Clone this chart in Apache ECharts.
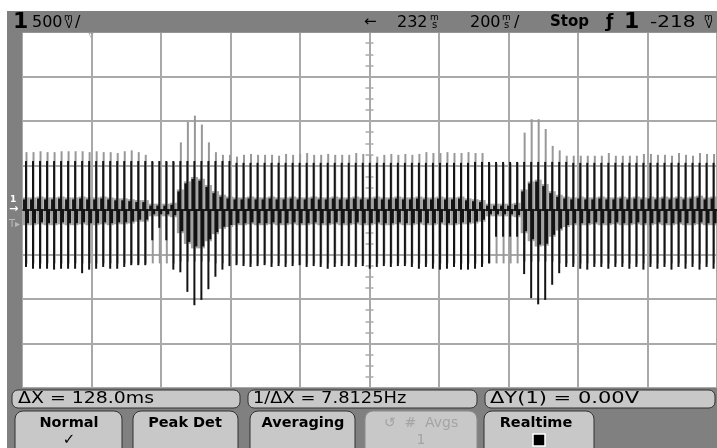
<!DOCTYPE html>
<html>
<head>
<meta charset="utf-8">
<script src="https://cdn.jsdelivr.net/npm/echarts@6/dist/echarts.min.js"></script>
<style>
  html, body { margin: 0; padding: 0; background: #ffffff; }
  #scope { width: 717px; height: 448px; }
</style>
</head>
<body>
<div id="scope"></div>
<script>
// Pulse train captured on channel 1: 200 ms/div, 500 mV/div.
// Spike times in ms relative to the screen centre.
const spikeTimes = [
  -988.5, -968.3, -948.1, -927.9, -907.7, -887.6, -867.4, -847.2, -827.0, -806.8,
  -786.6, -766.4, -746.2, -726.0, -705.8, -685.7, -665.5, -645.3, -625.1, -604.9,
  -584.7, -564.5, -544.3, -524.1, -503.9, -483.8, -463.6, -443.4, -423.2, -403.0,
  -382.8, -362.6, -342.4, -322.2, -302.0, -281.9, -261.7, -241.5, -221.3, -201.1,
  -180.9, -160.7, -140.5, -120.3, -100.1, -80.0, -59.8, -39.6, -19.4, 0.8,
  21.0, 41.2, 61.4, 81.6, 101.8, 121.9, 142.1, 162.3, 182.5, 202.7,
  222.9, 243.1, 263.3, 283.5, 303.7, 323.8, 344.0, 364.2, 384.4, 404.6,
  424.8, 445.0, 465.2, 485.4, 505.6, 525.7, 545.9, 566.1, 586.3, 606.5,
  626.7, 646.9, 667.1, 687.3, 707.5, 727.6, 747.8, 768.0, 788.2, 808.4,
  828.6, 848.8, 869.0, 889.2, 909.4, 929.5, 949.7, 969.9, 990.1
];

// Previous acquisition (grey trace), volts
const grayTop = [
  0.65, 0.65, 0.66, 0.65, 0.65, 0.66, 0.66, 0.66, 0.66, 0.65,
  0.66, 0.65, 0.65, 0.64, 0.66, 0.67, 0.65, 0.62, 0.54, 0.54,
  0.54, 0.54, 0.76, 0.99, 1.06, 0.96, 0.76, 0.65, 0.62, 0.62,
  0.60, 0.62, 0.63, 0.62, 0.62, 0.62, 0.61, 0.63, 0.62, 0.63,
  0.64, 0.62, 0.62, 0.63, 0.62, 0.62, 0.62, 0.64, 0.63, 0.62,
  0.60, 0.62, 0.63, 0.62, 0.63, 0.62, 0.63, 0.65, 0.64, 0.64,
  0.65, 0.64, 0.64, 0.65, 0.64, 0.64, 0.52, 0.52, 0.52, 0.52,
  0.53, 0.87, 1.02, 1.02, 0.91, 0.72, 0.67, 0.61, 0.61, 0.61,
  0.61, 0.61, 0.61, 0.64, 0.61, 0.61, 0.61, 0.61, 0.63, 0.63,
  0.62, 0.62, 0.61, 0.64, 0.62, 0.61, 0.64, 0.63, 0.63
];
const grayBottom = [
  -0.60, -0.60, -0.60, -0.60, -0.60, -0.60, -0.60, -0.60, -0.60, -0.60,
  -0.60, -0.60, -0.60, -0.60, -0.60, -0.60, -0.60, -0.60, -0.60, -0.60,
  -0.60, -0.60, -0.58, -0.58, -0.58, -0.58, -0.58, -0.60, -0.60, -0.60,
  -0.60, -0.60, -0.60, -0.60, -0.60, -0.60, -0.60, -0.60, -0.60, -0.60,
  -0.60, -0.60, -0.60, -0.60, -0.60, -0.60, -0.60, -0.60, -0.60, -0.60,
  -0.60, -0.60, -0.60, -0.60, -0.60, -0.60, -0.60, -0.60, -0.60, -0.60,
  -0.60, -0.60, -0.60, -0.60, -0.60, -0.60, -0.60, -0.60, -0.60, -0.60,
  -0.60, -0.58, -0.58, -0.58, -0.58, -0.58, -0.60, -0.60, -0.60, -0.60,
  -0.60, -0.60, -0.60, -0.60, -0.60, -0.60, -0.60, -0.60, -0.60, -0.60,
  -0.60, -0.60, -0.60, -0.60, -0.60, -0.60, -0.60, -0.60, -0.60
];

// Current acquisition (black trace), volts
const blackTop = [
  0.55, 0.55, 0.55, 0.55, 0.55, 0.55, 0.55, 0.55, 0.55, 0.55,
  0.55, 0.55, 0.55, 0.55, 0.55, 0.55, 0.55, 0.55, 0.55, 0.55,
  0.55, 0.55, 0.55, 0.55, 0.55, 0.55, 0.55, 0.55, 0.55, 0.55,
  0.53, 0.53, 0.53, 0.53, 0.53, 0.53, 0.53, 0.53, 0.53, 0.53,
  0.53, 0.53, 0.53, 0.53, 0.53, 0.53, 0.53, 0.53, 0.53, 0.53,
  0.53, 0.53, 0.53, 0.53, 0.53, 0.53, 0.53, 0.53, 0.53, 0.53,
  0.53, 0.53, 0.53, 0.53, 0.54, 0.54, 0.54, 0.54, 0.54, 0.54,
  0.54, 0.54, 0.54, 0.54, 0.54, 0.54, 0.54, 0.54, 0.53, 0.53,
  0.53, 0.53, 0.53, 0.53, 0.53, 0.53, 0.53, 0.53, 0.53, 0.53,
  0.53, 0.53, 0.53, 0.53, 0.53, 0.53, 0.53, 0.53, 0.53
];
const blackBottom = [
  -0.64, -0.66, -0.66, -0.66, -0.67, -0.66, -0.66, -0.66, -0.71, -0.67,
  -0.66, -0.64, -0.66, -0.66, -0.64, -0.62, -0.62, -0.62, -0.34, -0.20,
  -0.34, -0.67, -0.70, -0.92, -1.07, -1.01, -0.89, -0.75, -0.67, -0.63,
  -0.62, -0.63, -0.64, -0.63, -0.62, -0.64, -0.63, -0.64, -0.63, -0.62,
  -0.64, -0.63, -0.64, -0.66, -0.64, -0.63, -0.63, -0.64, -0.63, -0.66,
  -0.64, -0.63, -0.64, -0.63, -0.63, -0.64, -0.66, -0.64, -0.66, -0.67,
  -0.66, -0.64, -0.67, -0.67, -0.66, -0.64, -0.60, -0.30, -0.30, -0.30,
  -0.30, -0.72, -0.99, -1.06, -1.01, -0.84, -0.71, -0.64, -0.64, -0.66,
  -0.67, -0.64, -0.64, -0.66, -0.64, -0.64, -0.66, -0.64, -0.67, -0.64,
  -0.66, -0.64, -0.67, -0.64, -0.66, -0.64, -0.67, -0.64, -0.66
];

// Ringing envelope around the baseline after each spike, volts
const bandTop = [
  0.13, 0.13, 0.14, 0.13, 0.13, 0.14, 0.13, 0.13, 0.14, 0.13,
  0.13, 0.14, 0.13, 0.12, 0.12, 0.11, 0.10, 0.10, 0.06, 0.06,
  0.06, 0.07, 0.22, 0.31, 0.36, 0.34, 0.27, 0.20, 0.16, 0.14,
  0.13, 0.13, 0.14, 0.13, 0.13, 0.14, 0.13, 0.13, 0.14, 0.13,
  0.13, 0.14, 0.13, 0.13, 0.14, 0.13, 0.13, 0.14, 0.13, 0.13,
  0.14, 0.13, 0.13, 0.14, 0.13, 0.13, 0.14, 0.13, 0.13, 0.14,
  0.13, 0.13, 0.14, 0.12, 0.11, 0.10, 0.06, 0.06, 0.06, 0.06,
  0.07, 0.22, 0.31, 0.33, 0.28, 0.20, 0.16, 0.14, 0.13, 0.14,
  0.13, 0.13, 0.14, 0.13, 0.13, 0.14, 0.13, 0.14, 0.13, 0.14,
  0.13, 0.14, 0.13, 0.14, 0.13, 0.14, 0.15, 0.13, 0.14
];
const bandBottom = [
  -0.16, -0.16, -0.15, -0.16, -0.16, -0.15, -0.16, -0.16, -0.15, -0.16,
  -0.16, -0.15, -0.16, -0.15, -0.15, -0.14, -0.12, -0.12, -0.06, -0.06,
  -0.06, -0.07, -0.25, -0.37, -0.42, -0.42, -0.34, -0.26, -0.20, -0.18,
  -0.16, -0.16, -0.15, -0.16, -0.16, -0.15, -0.16, -0.16, -0.15, -0.16,
  -0.16, -0.15, -0.16, -0.16, -0.15, -0.16, -0.16, -0.15, -0.16, -0.16,
  -0.15, -0.16, -0.16, -0.15, -0.16, -0.16, -0.15, -0.16, -0.16, -0.15,
  -0.16, -0.16, -0.15, -0.15, -0.14, -0.12, -0.06, -0.06, -0.06, -0.06,
  -0.07, -0.25, -0.34, -0.40, -0.39, -0.29, -0.22, -0.18, -0.16, -0.16,
  -0.16, -0.15, -0.16, -0.16, -0.15, -0.16, -0.16, -0.15, -0.16, -0.16,
  -0.15, -0.16, -0.16, -0.15, -0.16, -0.16, -0.15, -0.16, -0.16
];

// Status line and measurement read-outs
const channelScale = '500';
const timeDelay = '232';
const timeScale = '200';
const triggerLevel = '-218';
const measurements = ['ΔX = 128.0ms', '1/ΔX = 7.8125Hz', 'ΔY(1) = 0.00V'];
const softkeys = ['Normal', 'Peak Det', 'Averaging', '↺  #  Avgs', 'Realtime'];

const FONT = '"DejaVu Sans", "Liberation Sans", sans-serif';
const GRID_COLOR = '#a9a9a9';
const PANEL = '#808080';
const KEY_FILL = '#c8c8c8';
const INK = '#141414';

const grayData = spikeTimes.map((t, i) => [t, grayTop[i], grayBottom[i], bandTop[i], bandBottom[i]]);
const blackData = spikeTimes.map((t, i) => [t, blackTop[i], blackBottom[i], bandTop[i], bandBottom[i]]);

function txt(x, y, text, size, opts) {
  opts = opts || {};
  return {
    type: 'text', x: x, y: y, z: 110,
    scaleX: opts.scaleX || 1,
    style: {
      text: text,
      font: (opts.bold ? 'bold ' : '') + size + 'px ' + FONT,
      fill: opts.fill || '#000000',
      align: opts.align || 'left', textAlign: opts.align || 'left',
      verticalAlign: 'middle', textVerticalAlign: 'middle'
    }
  };
}
function box(x, y, w, h, r, fill, stroke) {
  return {
    type: 'rect', z: 105,
    shape: { x: x, y: y, width: w, height: h, r: r },
    style: { fill: fill, stroke: stroke || null, lineWidth: stroke ? 1 : 0 }
  };
}

const graphics = [
  // instrument frame
  box(7, 11, 710, 21.5, 0, PANEL),
  box(7, 32, 15, 356, 0, PANEL),
  box(7, 388, 710, 60, 0, PANEL),

  // status line
  txt(13, 22.5, '1', 22, { bold: true }),
  txt(32, 22.5, channelScale, 16),
  txt(64, 17.5, 'm', 9), txt(65.5, 25.5, 'V', 10),
  txt(75, 22.5, '/', 16),
  txt(364, 22.5, '←', 15),
  txt(397, 22.5, timeDelay, 16),
  txt(430, 17.5, 'm', 9), txt(432, 25.5, 's', 10),
  txt(470, 22.5, timeScale, 16),
  txt(502, 17.5, 'm', 9), txt(504, 25.5, 's', 10),
  txt(514, 22.5, '/', 16),
  txt(550, 22.5, 'Stop', 15, { bold: true }),
  txt(606, 22.5, 'ƒ', 17, { bold: true }),
  txt(624, 22.5, '1', 22, { bold: true }),
  txt(650, 22.5, triggerLevel, 16, { scaleX: 1.25 }),
  txt(704, 17.5, 'm', 9), txt(705.5, 25.5, 'V', 10),

  // channel / trigger markers
  txt(10, 200, '1', 9, { bold: true, fill: '#ffffff' }),
  txt(9, 209.5, '→', 11, { bold: true, fill: '#ffffff' }),
  txt(9, 224, 'T▸', 10, { fill: '#b8b8b8' }),
  txt(91, 35, '▿', 10, { align: 'center', fill: '#9a9a9a' }),

  // measurement read-outs
  box(12, 390, 228, 18, 6, KEY_FILL, '#303030'),
  box(248, 390, 229, 18, 6, KEY_FILL, '#303030'),
  box(485, 390, 230, 18, 6, KEY_FILL, '#303030'),
  txt(18, 399, measurements[0], 15, { scaleX: 1.26 }),
  txt(253, 399, measurements[1], 15, { scaleX: 1.19 }),
  txt(490, 399, measurements[2], 15, { scaleX: 1.4 }),

  // softkeys
  box(15, 411, 107, 45, 8, KEY_FILL, '#303030'),
  box(133, 411, 105, 45, 8, KEY_FILL, '#303030'),
  box(250, 411, 105, 45, 8, KEY_FILL, '#303030'),
  box(365, 411, 112, 45, 8, KEY_FILL, '#8a8a8a'),
  box(484, 411, 110, 45, 8, KEY_FILL, '#303030'),
  txt(69, 423, softkeys[0], 14.5, { bold: true, align: 'center' }),
  txt(69, 440, '✓', 15, { bold: true, align: 'center' }),
  txt(185, 423, softkeys[1], 14.5, { bold: true, align: 'center', scaleX: 1 }),
  txt(303, 423, softkeys[2], 14.5, { bold: true, align: 'center' }),
  txt(421, 423, softkeys[3], 14, { align: 'center', fill: '#a4a4a4' }),
  txt(421, 440, '1', 14, { align: 'center', fill: '#a4a4a4' }),
  txt(536, 423, softkeys[4], 14.5, { bold: true, align: 'center' }),
  {
    type: 'rect', z: 110,
    shape: { x: 533, y: 434, width: 12, height: 12 },
    style: { fill: '#000000', stroke: '#ffffff', lineWidth: 1.5 }
  }
];

function centreAxis(dim, position, extra) {
  return Object.assign({
    type: 'value',
    position: position,
    axisLabel: { show: false },
    axisLine: { show: true, onZero: true, lineStyle: { color: GRID_COLOR, width: 2 } },
    axisTick: { show: true, length: 4, lineStyle: { color: GRID_COLOR, width: 1.5 } },
    minorTick: { show: true, splitNumber: dim === 'x' ? 5 : 4, length: 4, lineStyle: { color: GRID_COLOR, width: 1.5 } },
    splitLine: { show: false },
    z: 1
  }, extra);
}

const option = {
  backgroundColor: '#ffffff',
  animation: false,
  grid: { left: 22, top: 32, width: 695, height: 356, containLabel: false },
  xAxis: [
    centreAxis('x', 'bottom', { min: -1000, max: 1000, interval: 200,
      splitLine: { show: true, lineStyle: { color: GRID_COLOR, width: 2 } } }),
    centreAxis('x', 'top', { min: -1000, max: 1000, interval: 200 })
  ],
  yAxis: [
    centreAxis('y', 'left', { min: -2, max: 2, interval: 0.5,
      splitLine: { show: true, lineStyle: { color: GRID_COLOR, width: 2 } } }),
    centreAxis('y', 'right', { min: -2, max: 2, interval: 0.5 })
  ],
  graphic: { elements: graphics },
  series: [
    {
      name: 'previous',
      type: 'custom',
      xAxisIndex: 0, yAxisIndex: 0,
      silent: true, clip: true,
      encode: { x: 0, y: [1, 2] },
      data: grayData,
      renderItem: function (params, api) {
        const t = api.value(0);
        const top = api.coord([t, api.value(1)]);
        const bot = api.coord([t, api.value(2)]);
        const bt = api.coord([t, api.value(3)]);
        const bb = api.coord([t, api.value(4)]);
        return {
          type: 'group',
          children: [
            { type: 'rect', shape: { x: top[0] - 3.5, y: bt[1] - 1, width: 7, height: bb[1] - bt[1] + 2 },
              style: { fill: '#a2a2a2' } },
            { type: 'line', shape: { x1: top[0] + 0.5, y1: top[1], x2: bot[0] + 0.5, y2: bot[1] },
              style: { stroke: '#989898', lineWidth: 2 } }
          ]
        };
      }
    },
    {
      name: 'current',
      type: 'custom',
      xAxisIndex: 0, yAxisIndex: 0,
      silent: true, clip: true,
      encode: { x: 0, y: [1, 2] },
      data: blackData,
      renderItem: function (params, api) {
        const t = api.value(0);
        const top = api.coord([t, api.value(1)]);
        const bot = api.coord([t, api.value(2)]);
        const bt = api.coord([t, api.value(3)]);
        const bb = api.coord([t, api.value(4)]);
        const base = api.coord([t, 0]);
        const x = top[0];
        return {
          type: 'group',
          children: [
            { type: 'line', shape: { x1: x - 3.5, y1: base[1], x2: x + 3.5, y2: base[1] },
              style: { stroke: INK, lineWidth: 2 } },
            { type: 'rect', shape: { x: x - 3, y: bt[1] + 1, width: 3, height: base[1] - bt[1] - 1 },
              style: { fill: INK } },
            { type: 'rect', shape: { x: x, y: base[1], width: 3, height: bb[1] - base[1] - 1 },
              style: { fill: INK } },
            { type: 'line', shape: { x1: x, y1: top[1], x2: bot[0], y2: bot[1] },
              style: { stroke: INK, lineWidth: 2 } }
          ]
        };
      }
    }
  ]
};

const chart = echarts.init(document.getElementById('scope'), null, { renderer: 'canvas' });
chart.setOption(option);
</script>
</body>
</html>
